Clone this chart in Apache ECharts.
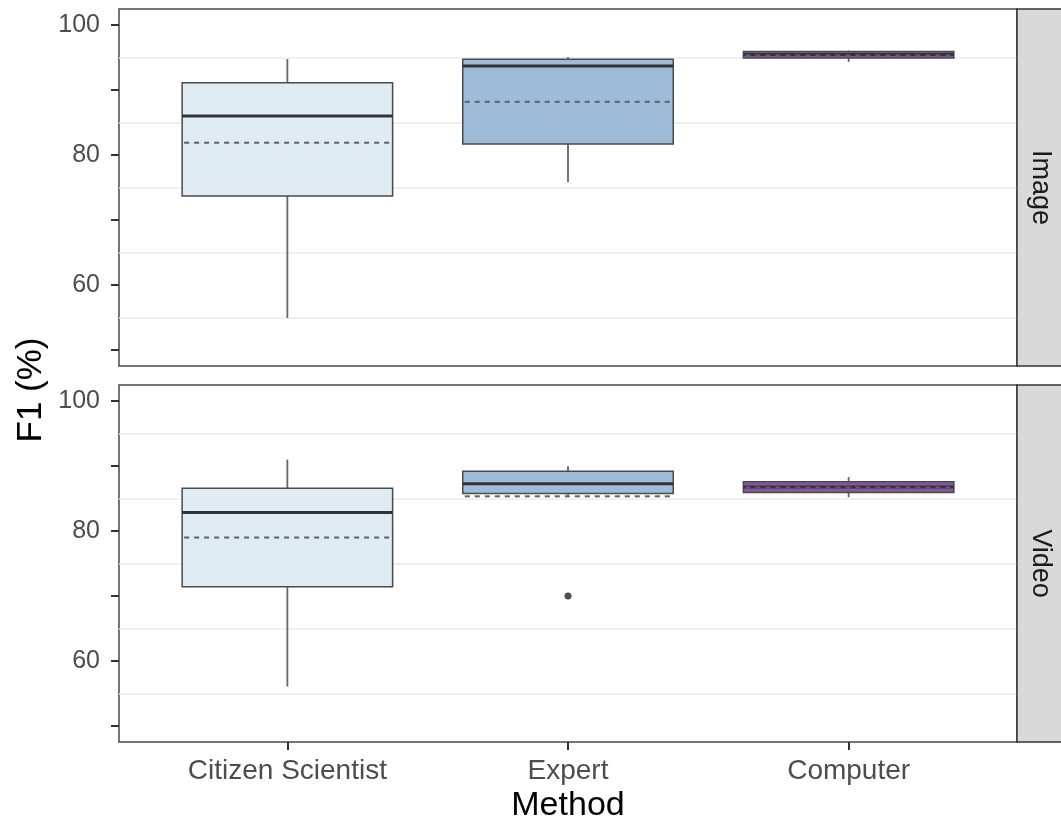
<!DOCTYPE html>
<html>
<head>
<meta charset="utf-8">
<script src="https://cdn.jsdelivr.net/npm/echarts@6/dist/echarts.min.js"></script>
<style>
html,body{margin:0;padding:0;background:#fff;}
#chart{width:1061px;height:822px;}
</style>
</head>
<body>
<div id="chart"></div>
<script>
// ---- data ----
const categories = ['Citizen Scientist', 'Expert', 'Computer'];
const facets = ['Image', 'Video'];
const fillColors = ['#E0ECF4', '#9EBCDA', '#8856A7'];

const imageLow    = [54.9, 75.8, 94.35];
const imageQ1     = [73.7, 81.7, 94.95];
const imageMedian = [86.0, 93.7, 95.5];
const imageQ3     = [91.15, 94.75, 95.95];
const imageHigh   = [94.8, 95.1, 96.1];
const imageMean   = [81.9, 88.2, 95.35];

const videoLow    = [56.05, 85.5, 85.2];
const videoQ1     = [71.4, 85.8, 85.95];
const videoMedian = [82.85, 87.3, 86.8];
const videoQ3     = [86.6, 89.2, 87.6];
const videoHigh   = [91.0, 90.0, 88.3];
const videoMean   = [79.0, 85.35, 86.7];

const videoOutlierCategory = ['Expert'];
const videoOutlierValue = [70.0];

const yLabelValues = [60, 80, 100];
const yTickValues = [50, 60, 70, 80, 90, 100];
const gridLineValues = [55, 65, 75, 85, 95];

// ---- build ----
const FONT = '"Liberation Sans", Arial, sans-serif';
const catPos = categories.map((c, i) => i + 1);

function boxData(low, q1, med, q3, high, mean) {
  return categories.map((c, i) => [catPos[i], low[i], q1[i], med[i], q3[i], high[i], mean[i], i]);
}

function renderBox(params, api) {
  const x = api.value(0);
  const half = api.size([0.75, 0])[0] / 2;
  const cx = api.coord([x, api.value(1)])[0];
  const yLow = api.coord([x, api.value(1)])[1];
  const yQ1 = api.coord([x, api.value(2)])[1];
  const yMed = api.coord([x, api.value(3)])[1];
  const yQ3 = api.coord([x, api.value(4)])[1];
  const yHigh = api.coord([x, api.value(5)])[1];
  const yMean = api.coord([x, api.value(6)])[1];
  const color = fillColors[api.value(7)];
  return {
    type: 'group',
    children: [
      {type: 'line', shape: {x1: cx, y1: yHigh, x2: cx, y2: yQ3}, style: {stroke: '#666666', lineWidth: 1.8}},
      {type: 'line', shape: {x1: cx, y1: yQ1, x2: cx, y2: yLow}, style: {stroke: '#666666', lineWidth: 1.8}},
      {type: 'rect', shape: {x: cx - half, y: yQ3, width: half * 2, height: yQ1 - yQ3},
        style: {fill: color, stroke: '#4a4a4a', lineWidth: 1.5}},
      {type: 'line', shape: {x1: cx - half, y1: yMed, x2: cx + half, y2: yMed}, style: {stroke: '#333333', lineWidth: 3}},
      {type: 'line', shape: {x1: cx - half + 2, y1: yMean, x2: cx + half - 2, y2: yMean},
        style: {stroke: '#606060', lineWidth: 2, lineDash: [5, 5]}}
    ]
  };
}

const chart = echarts.init(document.getElementById('chart'), null, {renderer: 'canvas'});

const gridTops = [9, 385];
const gridH = 357;

function yAxisFor(idx) {
  return {
    type: 'value', gridIndex: idx, min: 47.5, max: 102.5,
    axisLine: {show: false},
    splitLine: {show: false},
    axisTick: {show: true, length: 8, lineStyle: {color: '#333', width: 2}, customValues: yTickValues},
    axisLabel: {show: true, customValues: yLabelValues, margin: 19, color: '#4d4d4d', fontSize: 25, fontFamily: FONT}
  };
}

function xAxisFor(idx, showLabels) {
  return {
    type: 'value', gridIndex: idx, min: 0.4, max: 3.6,
    axisLine: {show: false},
    splitLine: {show: false},
    axisTick: {show: showLabels, length: 8, lineStyle: {color: '#333', width: 2}, customValues: catPos},
    axisLabel: {show: showLabels, customValues: catPos, margin: 15, color: '#4d4d4d', fontSize: 28, fontFamily: FONT,
      formatter: v => categories[Math.round(v) - 1] || ''},
    name: showLabels ? 'Method' : '',
    nameLocation: 'middle', nameGap: 47,
    nameTextStyle: {color: '#000', fontSize: 34, fontFamily: FONT}
  };
}

function gridLineSeries(idx) {
  return {
    type: 'line', xAxisIndex: idx, yAxisIndex: idx, data: [], silent: true, z: 1,
    markLine: {
      silent: true, symbol: 'none', label: {show: false},
      lineStyle: {color: '#ebebeb', width: 1.5, type: 'solid'},
      data: gridLineValues.map(v => ({yAxis: v}))
    }
  };
}

const graphics = [];
facets.forEach((f, i) => {
  graphics.push({
    type: 'rect', z: 10,
    shape: {x: 1017, y: gridTops[i], width: 50, height: gridH},
    style: {fill: '#d9d9d9', stroke: '#333', lineWidth: 1.5}
  });
  graphics.push({
    type: 'text', z: 11, x: 1040, y: gridTops[i] + gridH / 2, rotation: -Math.PI / 2,
    style: {text: f, fill: '#1a1a1a', font: '27px ' + FONT, align: 'center', verticalAlign: 'middle'}
  });
});
graphics.push({
  type: 'text', z: 11, x: 31, y: 390, rotation: Math.PI / 2,
  style: {text: 'F1 (%)', fill: '#000', font: '35px ' + FONT, align: 'center', verticalAlign: 'middle'}
});

const option = {
  backgroundColor: '#fff',
  animation: false,
  grid: gridTops.map(t => ({left: 119, top: t, width: 898, height: gridH, show: true,
    outerBoundsMode: 'none',
    borderColor: '#4a4a4a', borderWidth: 1.5, backgroundColor: '#fff', containLabel: false})),
  xAxis: [xAxisFor(0, false), xAxisFor(1, true)],
  yAxis: [yAxisFor(0), yAxisFor(1)],
  series: [
    gridLineSeries(0),
    gridLineSeries(1),
    {
      type: 'custom', xAxisIndex: 0, yAxisIndex: 0, z: 5,
      renderItem: renderBox,
      encode: {x: 0, y: [1, 5]},
      data: boxData(imageLow, imageQ1, imageMedian, imageQ3, imageHigh, imageMean)
    },
    {
      type: 'custom', xAxisIndex: 1, yAxisIndex: 1, z: 5,
      renderItem: renderBox,
      encode: {x: 0, y: [1, 5]},
      data: boxData(videoLow, videoQ1, videoMedian, videoQ3, videoHigh, videoMean)
    },
    {
      type: 'scatter', xAxisIndex: 1, yAxisIndex: 1, z: 6,
      symbol: 'circle', symbolSize: 7,
      itemStyle: {color: '#222'},
      data: videoOutlierValue.map((v, i) => [categories.indexOf(videoOutlierCategory[i]) + 1, v])
    }
  ],
  graphic: graphics
};

chart.setOption(option);
</script>
</body>
</html>
